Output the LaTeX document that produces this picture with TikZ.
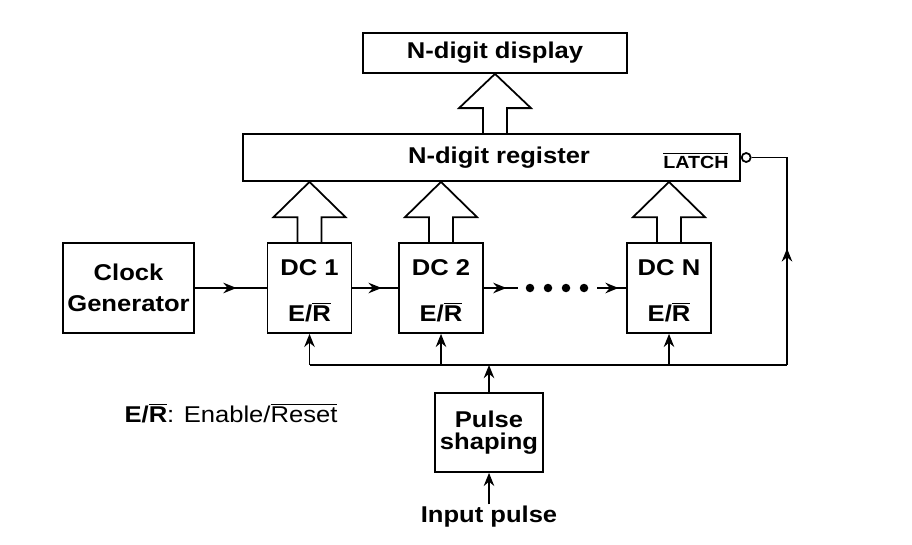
\documentclass[tikz,border=0pt]{standalone}
\usepackage{fontspec}
\setmainfont{Liberation Sans}[FakeStretch=1.12]
\usetikzlibrary{positioning,calc,arrows.meta,decorations.markings}

\newcommand\dclabel[1]{\raisebox{-3pt}[\height][\depth]{\begin{tabular}{@{}c@{}}#1\\[11pt]E/$\overline{\mbox{R}}$\end{tabular}}}

\tikzset{
	sig/.style={line width=1pt},
	blk/.style={draw,sig,inner sep=0pt,align=center,font=\fontsize{13}{15}\bfseries},
	dcblk/.style={blk,minimum width=1.68cm,minimum height=1.8cm},
	dotn/.style={circle,fill,inner sep=0pt,minimum size=0.17cm},
	tip/.style={-{Stealth[length=7.5pt,width=6pt,inset=2.5pt]}},
	midtip/.style={postaction={decorate},decoration={markings,mark=at position #1 with {\arrow{Stealth[length=7.5pt,width=6pt,inset=2.5pt]}}}},
}

\begin{document}
\begin{tikzpicture}[x=0.02cm,y=-0.02cm]
	\useasboundingbox (0,0) rectangle (912,544);
	
	% display and register
	\node[blk,minimum width=5.28cm,minimum height=0.8cm] (disp) at (495,53) {N-digit display};
	\node[blk,minimum width=9.94cm,minimum height=0.94cm] (reg) at (491.5,157.5) {\hspace*{0.3cm}N-digit register};
	\node[font=\fontsize{10}{12}\bfseries,inner sep=0pt,anchor=east] (latch) at ($(reg.east)+(-12,3)$) {$\overline{\mbox{LATCH}}$};
	\node[draw,sig,circle,inner sep=0pt,minimum size=0.18cm,anchor=west] (bub) at (reg.east) {};
	
	% counters
	\node[blk,minimum width=2.62cm,minimum height=1.8cm,font=\fontsize{13}{17.5}\bfseries] (clk) at (128.5,288) {Clock\\Generator};
	\node[dcblk] (dc1) at (309.5,288) {\dclabel{DC 1}};
	\node[dcblk] (dc2) at (441,288) {\dclabel{DC 2}};
	\node[dcblk] (dcn) at (669,288) {\dclabel{DC N}};
	\foreach \i/\x in {1/530,2/548,3/566,4/584}
		\node[dotn] (dot\i) at (\x,288) {};
	\coordinate (g1) at (518,288);
	\coordinate (g2) at (597,288);
	
	% input side
	\node[blk,minimum width=2.16cm,minimum height=1.58cm,font=\fontsize{13}{12.5}\bfseries] (pulse) at (489,432.5) {Pulse\\shaping};
	\node[font=\fontsize{13}{15}\bfseries,inner sep=1pt] (inp) at (489,517) {Input pulse};
	\node[font=\fontsize{13}{15},inner sep=0pt] (key) at (231,413) {\bfseries E/$\overline{\mbox{R}}$\mdseries: Enable/$\overline{\mbox{Reset}}$};
	
	% clock chain
	\draw[sig,midtip=0.58] (clk) -- (dc1);
	\draw[sig,midtip=0.64] (dc1) -- (dc2);
	\draw[sig,midtip=0.66] (dc2.east) -- (g1);
	\draw[sig,midtip=0.74] (g2) -- (dcn.west);
	
	% enable/reset bus
	\coordinate (busR) at (787,365);
	\draw[sig] (dc1.south |- busR) -- (busR);
	\foreach \n in {dc1,dc2,dcn}
		\draw[sig,tip] (\n.south |- busR) -- (\n.south);
	\draw[sig,tip] (pulse.north) -- (pulse.north |- busR);
	\draw[sig,tip] (inp.north) -- (pulse.south);
	\draw[sig,midtip=0.48] (busR) -- (busR |- bub) -- (bub.east);
	
	% hollow bus arrows
	\foreach \n in {dc1,dc2,dcn}
		\draw[sig] ($(\n.north)+(-12,0)$) -- ++(0,-25) -- ++(-24,0) -- (\n.north |- reg.south)
			-- ($(\n.north)+(36,-25)$) -- ++(-24,0) -- ++(0,25);
	\coordinate (dspb) at (disp.south |- reg.north);
	\draw[sig] ($(dspb)+(-12,0)$) -- ++(0,-25) -- ++(-24,0) -- (disp.south)
		-- ($(dspb)+(36,-25)$) -- ++(-24,0) -- ++(0,25);
\end{tikzpicture}
\end{document}
